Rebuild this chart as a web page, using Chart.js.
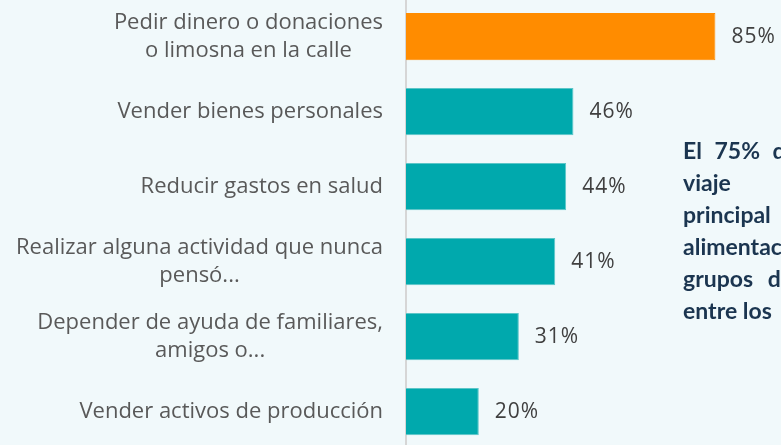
<!DOCTYPE html>
<html>
<head>
<meta charset="utf-8">
<script src="https://cdn.jsdelivr.net/npm/chart.js@4"></script>
<style>
  html, body { margin: 0; padding: 0; width: 781px; height: 445px; overflow: hidden; background: #f1f9fb; }
  #wrap { position: absolute; left: 0; top: -1px; width: 781px; height: 450px; }
  #note { position: absolute; left: 683px; top: 134px; font-family: Lato, "Open Sans", sans-serif; font-weight: 700;
          font-size: 23px; line-height: 32px; color: #1b3550; white-space: nowrap; }
  #note div.w1 { word-spacing: 7px; }
  #note div.w2 { word-spacing: 9px; }
</style>
</head>
<body>
<div id="wrap"><canvas id="c"></canvas></div>
<div id="note"></div>
<script>
const categories = [
  ["Pedir dinero o donaciones", "o limosna en la calle"],
  ["Vender bienes personales"],
  ["Reducir gastos en salud"],
  ["Realizar alguna actividad que nunca", "pensó..."],
  ["Depender de ayuda de familiares,", "amigos o..."],
  ["Vender activos de producción"]
];
const values = [85, 46, 44, 41, 31, 20];
const valueLabels = ["85%", "46%", "44%", "41%", "31%", "20%"];
const noteLines = ["El 75% de", "viaje", "principal", "alimentación", "grupos de", "entre los"];

const note = document.getElementById('note');
noteLines.forEach((t, i) => {
  const d = document.createElement('div');
  d.textContent = t;
  if (i === 0) d.className = 'w1';
  if (i === 4) d.className = 'w2';
  note.appendChild(d);
});

const barColors = values.map((v, i) => i === 0 ? '#ff8c00' : '#00a9ad');
const barBorders = values.map((v, i) => i === 0 ? '#ff8c00' : '#5cc6c8');

const labelPlugin = {
  id: 'labels',
  afterDatasetsDraw(chart) {
    const ctx = chart.ctx;
    const meta = chart.getDatasetMeta(0);
    const yScale = chart.scales.y;
    ctx.save();
    // value labels
    ctx.font = '21px "Open Sans", sans-serif';
    ctx.letterSpacing = '1px';
    ctx.fillStyle = '#404040';
    ctx.textAlign = 'left';
    ctx.textBaseline = 'middle';
    meta.data.forEach((bar, i) => {
      ctx.fillText(valueLabels[i], bar.x + 16, bar.y + 1);
    });
    // category labels: block right-aligned, lines centred within block
    ctx.letterSpacing = '0px';
    ctx.font = '22px "Open Sans", sans-serif';
    ctx.fillStyle = '#595959';
    ctx.textAlign = 'center';
    const rightEdge = yScale.right - 23;
    const lh = 28;
    categories.forEach((lines, i) => {
      const yc = yScale.getPixelForValue(i);
      const maxW = Math.max(...lines.map(l => ctx.measureText(l).width));
      const cx = rightEdge - maxW / 2;
      lines.forEach((l, j) => {
        const y = yc + (j - (lines.length - 1) / 2) * lh;
        ctx.fillText(l, cx, y);
      });
    });
    ctx.restore();
  }
};

new Chart(document.getElementById('c'), {
  type: 'bar',
  data: {
    labels: categories,
    datasets: [{
      data: values,
      backgroundColor: barColors,
      borderColor: barBorders,
      borderWidth: 1,
      barPercentage: 0.9,
      categoryPercentage: 0.7
    }]
  },
  options: {
    indexAxis: 'y',
    responsive: true,
    maintainAspectRatio: false,
    animation: false,
    layout: { padding: { left: 0, right: 11, top: 0, bottom: 0 } },
    plugins: { legend: { display: false }, tooltip: { enabled: false } },
    scales: {
      x: { display: false, min: 0, max: 100 },
      y: {
        afterFit(scale) { scale.width = 406; scale.paddingTop = 0; scale.paddingBottom = 0; },
        grid: { display: false, drawTicks: false },
        border: { display: true, color: '#d6d6d6', width: 2 },
        ticks: { display: false }
      }
    }
  },
  plugins: [labelPlugin]
});
</script>
</body>
</html>
